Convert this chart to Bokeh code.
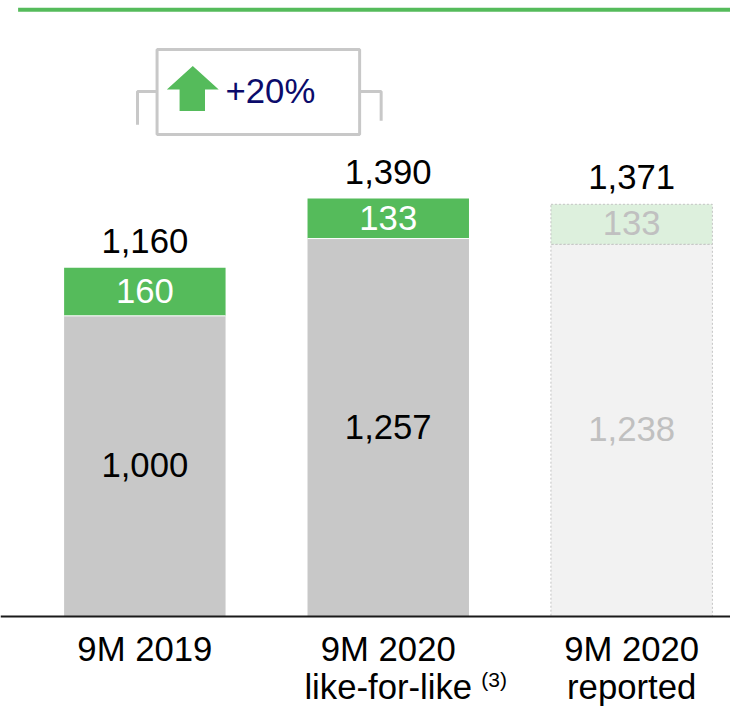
from bokeh.plotting import figure
from bokeh.models import Range1d, ColumnDataSource, CDSView, IndexFilter, Span
from bokeh.core.properties import value
from bokeh.embed import file_html
from bokeh.resources import INLINE

# ---- data ----
categories = ["9M 2019", "9M 2020", "9M 2020"]
sublabels = ["", "like-for-like", "reported"]
base_values = [1000, 1257, 1238]
incr_values = [160, 133, 133]
totals = [b + i for b, i in zip(base_values, incr_values)]
footnote = "(3)"

# ---- styles ----
GREEN = "#55bb5b"
GREY = "#c8c8c8"
FONT = value("Liberation Sans")
FS = "34.7px"
base_fill = [GREY, GREY, "#f2f2f2"]
incr_fill = [GREEN, GREEN, "#ddf0dd"]
base_text_col = ["black", "black", "#c0c0c0"]
incr_text_col = ["white", "white", "#c0c0c0"]

# ---- layout scales (reference pixels -> data) ----
XS, X0PX = 248.75, 147.5   # px per category, x of first category
YS, Y0PX = 0.3075, 630.0   # px per unit, y of zero line
REF_W, REF_H = 746, 722
W, H = 730, 706

def dx(px):
    return (px - X0PX) / XS

def dy(py):
    return (Y0PX - py) / YS

p = figure(width=W, height=H, output_backend="svg", toolbar_location=None,
           x_range=Range1d(dx(0), dx(REF_W)), y_range=Range1d(dy(REF_H), dy(0)),
           x_axis_location=None, y_axis_location=None, min_border=0,
           outline_line_color=None, background_fill_color="white")
p.grid.visible = False

xs = list(range(len(categories)))
src = ColumnDataSource(dict(
    x=xs, base=base_values, incr=incr_values, total=totals,
    base_fill=base_fill, incr_fill=incr_fill,
    base_mid=[b / 2 for b in base_values],
    incr_mid=[b + i / 2 for b, i in zip(base_values, incr_values)],
    base_lbl=[f"{v:,}" for v in base_values],
    incr_lbl=[f"{v:,}" for v in incr_values],
    total_lbl=[f"{v:,}" for v in totals],
    base_tc=base_text_col, incr_tc=incr_text_col,
    cat=categories, sub=sublabels,
))
solid = CDSView(filter=IndexFilter([0, 1]))
dashed = CDSView(filter=IndexFilter([2]))
BW = 165 / XS

p.vbar(x="x", bottom=0, top="base", width=BW, source=src, view=solid,
       fill_color="base_fill", line_color=None)
p.vbar(x="x", bottom="base", top="total", width=BW, source=src, view=solid,
       fill_color="incr_fill", line_color=None)
p.vbar(x="x", bottom=0, top="base", width=BW, source=src, view=dashed,
       fill_color="base_fill", line_color="#c4c4c4", line_width=1, line_dash="2 2")
p.vbar(x="x", bottom="base", top="total", width=BW, source=src, view=dashed,
       fill_color="incr_fill", line_color="#c4c4c4", line_width=1, line_dash="2 2")

# separator between segments (white thin line)
p.segment(x0=[x - BW / 2 for x in xs[:2]], x1=[x + BW / 2 for x in xs[:2]],
          y0=base_values[:2], y1=base_values[:2], line_color="white", line_width=1)

# value labels
p.text(x="x", y="base_mid", text="base_lbl", source=src, text_color="base_tc",
       text_font=FONT, text_font_size=FS, text_align="center",
       text_baseline="alphabetic", y_offset=-1)
p.text(x="x", y="incr_mid", text="incr_lbl", source=src, text_color="incr_tc",
       text_font=FONT, text_font_size=FS, text_align="center",
       text_baseline="alphabetic", y_offset=-1)
p.text(x="x", y="total", text="total_lbl", source=src, text_color="black",
       text_font=FONT, text_font_size=FS, text_align="center",
       text_baseline="alphabetic", y_offset=-27)

# category labels
p.text(x="x", y=0, text="cat", source=src, text_color="black",
       text_font=FONT, text_font_size=FS, text_align="center",
       text_baseline="alphabetic", y_offset=32)
p.text(x="x", y=0, text="sub", source=src, text_color="black",
       text_font=FONT, text_font_size=FS, text_align="center",
       text_baseline="alphabetic", y_offset=70)
p.text(x=[xs[1]], y=[0], text=[footnote], text_color="black",
       text_font=FONT, text_font_size="21px", text_align="left",
       text_baseline="alphabetic", x_offset=93, y_offset=63)

# baseline
p.add_layout(Span(location=0, dimension="width", line_color="#1a1a1a", line_width=2))

# top green rule
p.segment(x0=[dx(18)], x1=[dx(760)], y0=[dy(9.5)], y1=[dy(9.5)],
          line_color=GREEN, line_width=4)

# growth bracket
growth = round((totals[1] / totals[0] - 1) * 100)
p.multi_line(xs=[[dx(140), dx(140), dx(160)], [dx(367), dx(389), dx(389)]],
             ys=[[dy(127), dy(93), dy(93)], [dy(93), dy(93), dy(123)]],
             line_color=GREY, line_width=3)
p.quad(left=[dx(160)], right=[dx(367)], top=[dy(50)], bottom=[dy(137)],
       fill_color="white", line_color=GREY, line_width=3)
p.patch(x=[dx(196.5), dx(223), dx(209), dx(209), dx(183), dx(183), dx(170)],
        y=[dy(67), dy(91), dy(91), dy(113), dy(113), dy(91), dy(91)],
        fill_color=GREEN, line_color=None)
p.text(x=[dx(230)], y=[dy(107)], text=[f"+{growth}%"], text_color="#0b0b6b",
       text_font=FONT, text_font_size=FS, text_align="left",
       text_baseline="alphabetic", y_offset=-14)

open("out.html", "w").write(file_html(p, INLINE))
